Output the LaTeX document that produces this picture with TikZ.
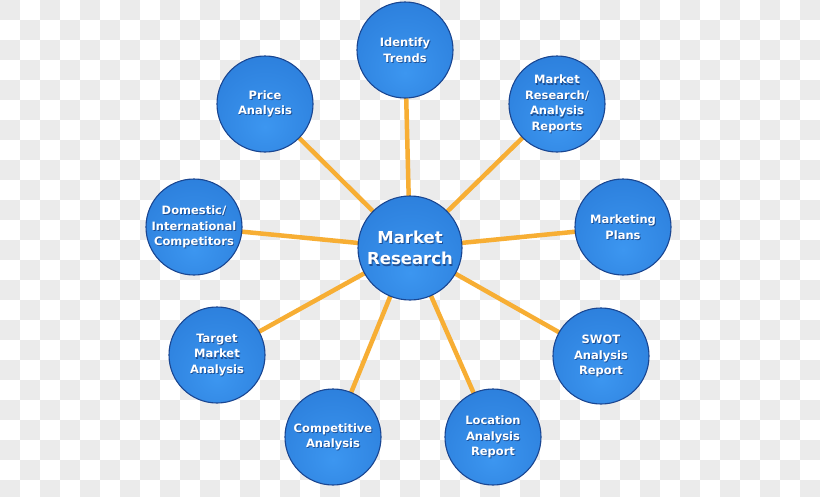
\documentclass[tikz,border=0pt]{standalone}
\usepackage{fontspec}
\setmainfont{DejaVu Sans}
\usetikzlibrary{backgrounds,calc}
\definecolor{conn}{RGB}{247,174,52}
\definecolor{ballin}{RGB}{60,150,240}
\definecolor{ballmid}{RGB}{44,127,220}
\definecolor{ballout}{RGB}{30,94,188}
\definecolor{balledge}{RGB}{26,70,145}
\definecolor{chk}{RGB}{235,235,235}
\definecolor{shadowc}{RGB}{15,40,95}
\pgfdeclareradialshading{ballsh}{\pgfpoint{0bp}{-12bp}}{color(0bp)=(ballin); color(34bp)=(ballmid); color(56bp)=(ballout); color(75bp)=(ballout)}
\tikzset{
  ball/.style={circle, draw=balledge, line width=1.1pt, shading=ballsh, inner sep=0pt, minimum size=#1},
  lbl/.style={text=white, font=\bfseries\fontsize{11.5}{15.5}\selectfont, align=center, inner sep=0pt},
  lblsh/.style={lbl, text=shadowc, opacity=0.6},
  bigl/.style={text=white, font=\bfseries\fontsize{16.5}{21.5}\selectfont, align=center, inner sep=0pt},
  biglsh/.style={bigl, text=shadowc, opacity=0.6},
  connline/.style={draw=conn, line width=4.5pt}
}
\newcommand\bubble[5]{%
  \node[ball=96pt] (#1) at (#2,#3) {};
  \node[lblsh] (#1s) at ($(#1)+(0.9,1.1)$) {#4};
  \node[lbl] (#1t) at ($(#1)+(0,#5)$) {#4};
}
\begin{document}
\begin{tikzpicture}[x=1pt,y=-1pt]
\useasboundingbox (0,0) rectangle (820,496);
% center
\node[ball=104pt] (mr) at (410,248) {};
\node[biglsh] (mrs) at ($(mr)+(1,1.3)$) {Market\\Research};
\node[bigl] (mrt) at (mr) {Market\\Research};
% outer
\bubble{it}{405}{50}{Identify\\Trends}{0}
\bubble{rep}{557}{104}{Market\\Research/\\Analysis\\Reports}{0}
\bubble{mp}{623}{227}{Marketing\\Plans}{0}
\bubble{sw}{601}{356}{SWOT\\Analysis\\Report}{0}
\bubble{lo}{493}{437}{Location\\Analysis\\Report}{0}
\bubble{co}{333}{437}{Competitive\\Analysis}{0}
\bubble{ta}{217}{355}{Target\\Market\\Analysis}{0}
\bubble{do}{194}{227}{Domestic/\\International\\Competitors}{0}
\bubble{pr}{265}{104}{Price\\Analysis}{0}
\begin{pgfonlayer}{background}
  \begin{scope}
    \clip (0,0) rectangle (820,496);
    \fill[white] (0,0) rectangle (820,496);
    \foreach \i in {0,2,...,40}{
      \foreach \j in {0,2,...,24}{
        \fill[chk] (\i*20,\j*20) rectangle ++(20,20);
        \fill[chk] (\i*20+20,\j*20+20) rectangle ++(20,20);
      }
    }
  \end{scope}
  \foreach \n in {it,rep,mp,sw,lo,co,ta,do,pr}{
    \draw[connline] (mr.center) -- (\n.center);
  }
\end{pgfonlayer}
\end{tikzpicture}
\end{document}
